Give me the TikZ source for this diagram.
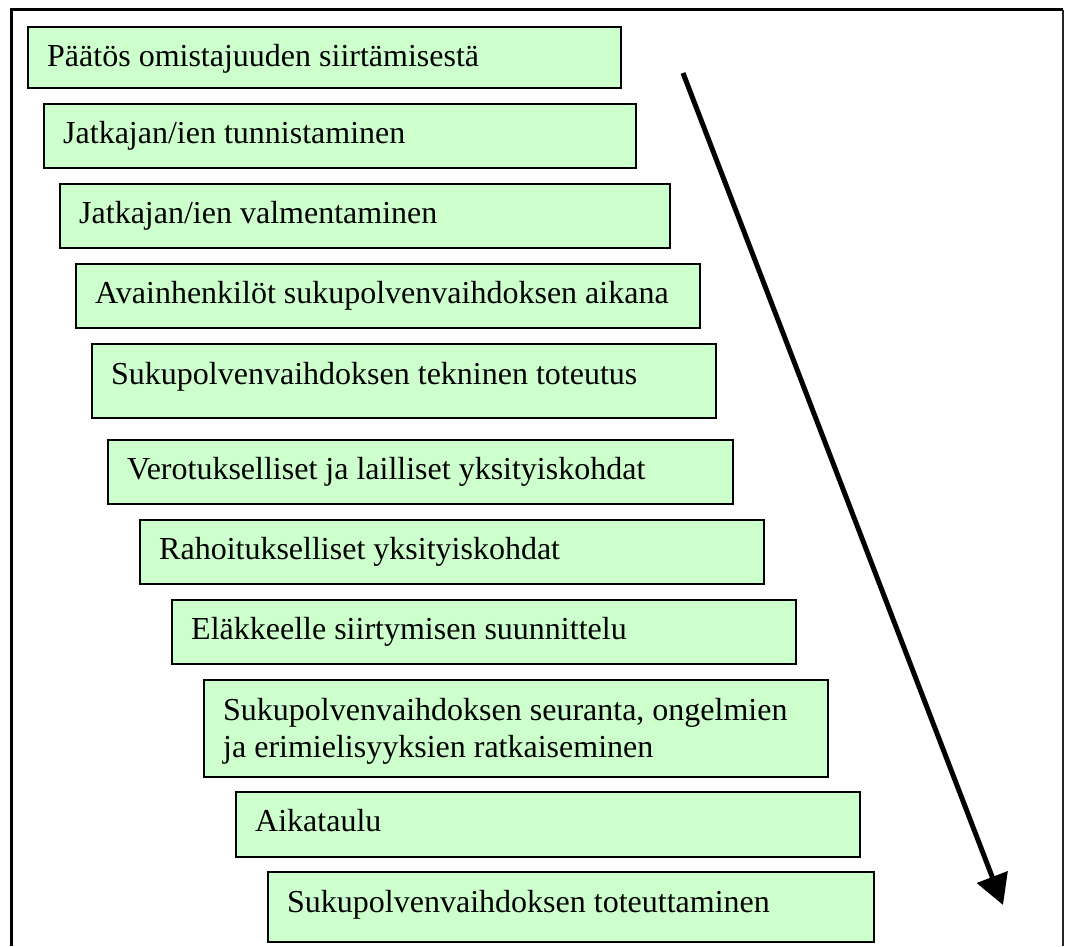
\documentclass[tikz,border=0pt]{standalone}
\usepackage{fontspec}
\setmainfont{Liberation Serif}
\usetikzlibrary{arrows.meta,positioning}
\definecolor{boxgreen}{HTML}{CCFFCC}
\tikzset{
  stepbox/.style={draw=black, line width=1.6pt, fill=boxgreen, rectangle, inner sep=0pt, anchor=north west},
  steptext/.style={anchor=base west, inner sep=0pt, align=left, font=\fontsize{32}{37}\selectfont},
  frameline/.style={line width=3pt, black},
  bigarrow/.style={line width=5pt, -{Triangle[length=30pt, width=32pt]}}
}
\newcommand{\stepnode}[7][40]{%
  % #1 text baseline offset (of last line), #2 name, #3 left, #4 top, #5 right, #6 bottom, #7 text
  \pgfmathsetmacro{\bw}{#5-#3}\pgfmathsetmacro{\bh}{#6-#4}%
  \node[stepbox, minimum width=\bw pt, minimum height=\bh pt] (#2) at (#3,#4) {};
  \node[steptext] (#2t) at ([xshift=20pt, yshift=-#1pt]#2.north west) {#7};
}
\begin{document}
\begin{tikzpicture}[x=1pt, y=-1pt]
\useasboundingbox (0,0) rectangle (1066,946);
% frame
\draw[frameline] (11.5,946) -- (11.5,9.5) -- (1063,9.5);
\draw[line width=1.8pt, black!85] (1063,9.5) -- (1063,946);
% steps
\stepnode{b1}{27}{26}{620}{87}{Päätös omistajuuden siirtämisestä}
\stepnode{b2}{43}{103}{635}{167}{Jatkajan/ien tunnistaminen}
\stepnode{b3}{59}{183}{669}{247}{Jatkajan/ien valmentaminen}
\stepnode{b4}{75}{263}{699}{327}{Avainhenkilöt sukupolvenvaihdoksen aikana}
\stepnode[41]{b5}{91}{343}{715}{417}{Sukupolvenvaihdoksen tekninen toteutus}
\stepnode{b6}{107}{439}{732}{503}{Verotukselliset ja lailliset yksityiskohdat}
\stepnode{b7}{139}{519}{763}{583}{Rahoitukselliset yksityiskohdat}
\stepnode{b8}{171}{599}{795}{663}{Eläkkeelle siirtymisen suunnittelu}
\stepnode[78]{b9}{203}{679}{827}{776}{Sukupolvenvaihdoksen seuranta, ongelmien\\ja erimielisyyksien ratkaiseminen}
\stepnode{b10}{235}{791}{859}{856}{Aikataulu}
\stepnode[41]{b11}{267}{871}{873}{941}{Sukupolvenvaihdoksen toteuttaminen}
% arrow
\coordinate (astart) at (683,73);
\coordinate (aend) at (1003,905);
\draw[bigarrow] (astart) -- (aend);
\end{tikzpicture}
\end{document}
